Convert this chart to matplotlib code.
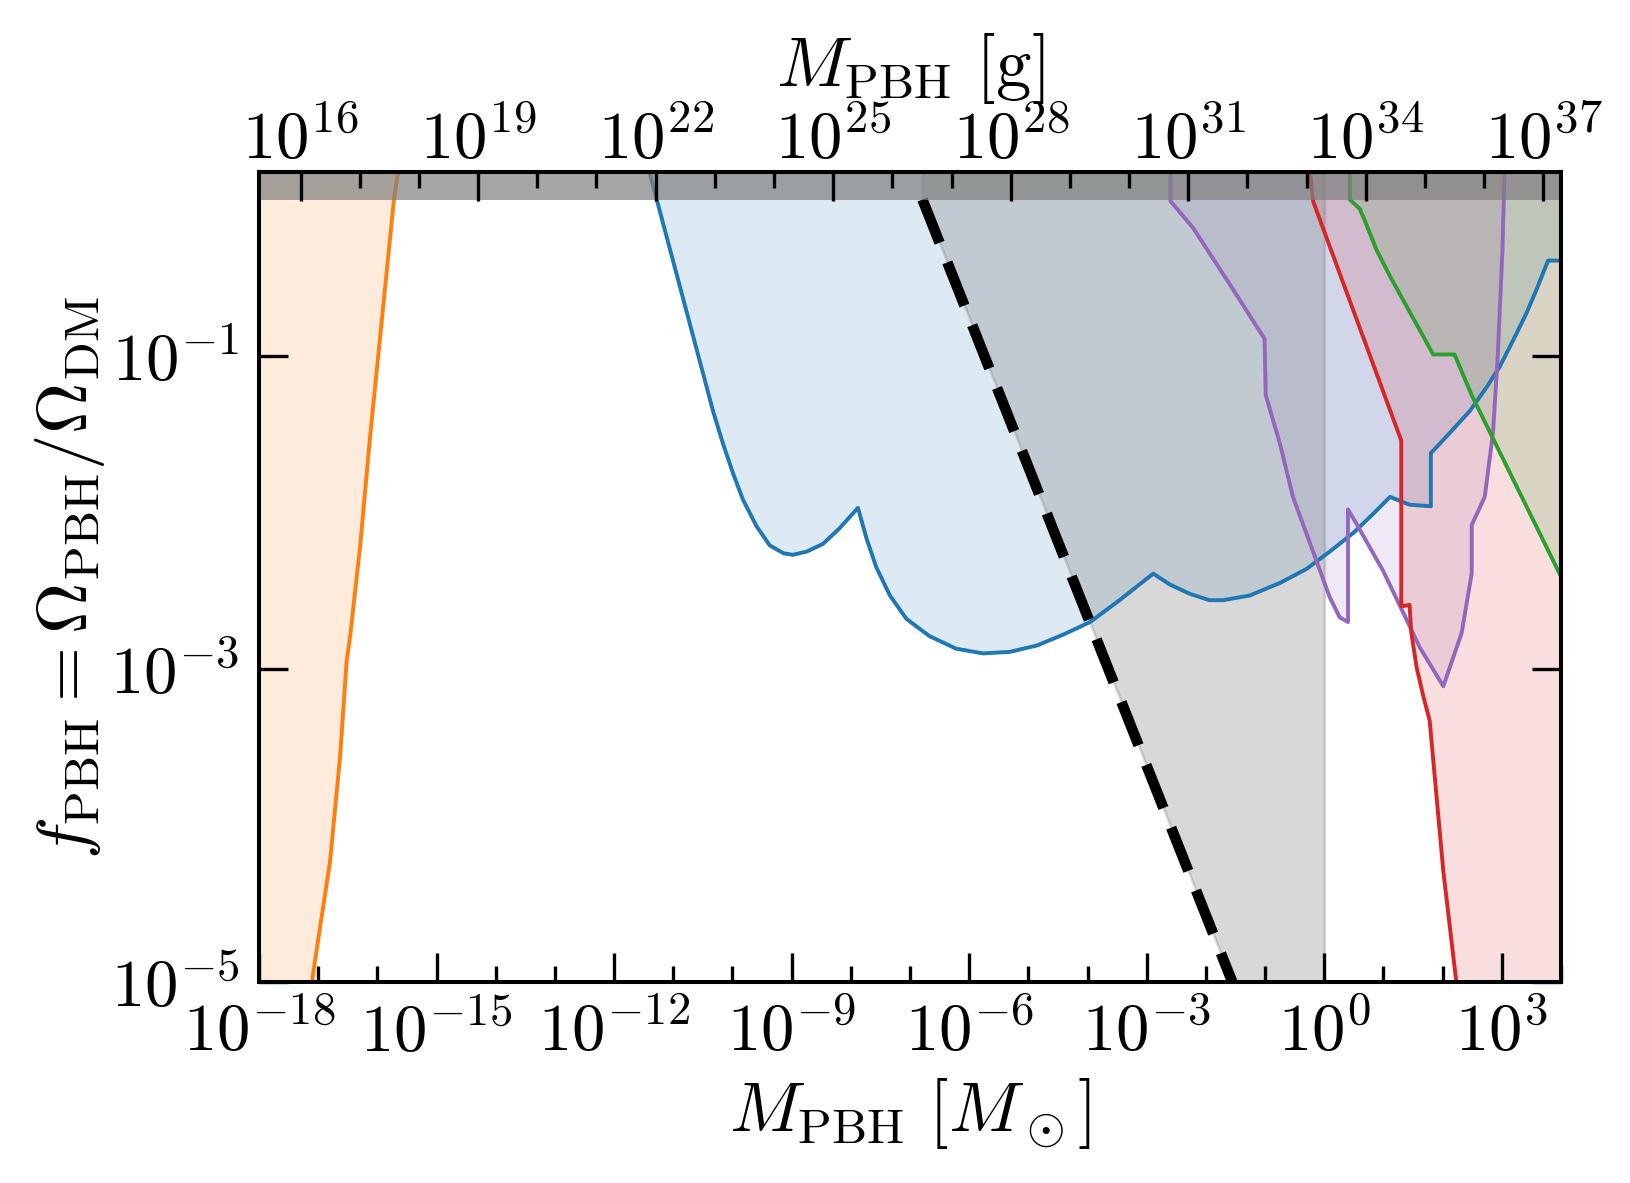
import matplotlib
matplotlib.use("Agg")
import matplotlib.pyplot as plt
import numpy as np
from matplotlib.ticker import NullFormatter, NullLocator

plt.rcParams['mathtext.fontset'] = 'cm'
plt.rcParams['font.family'] = 'serif'
plt.rcParams['font.serif'] = ['cmr10', 'DejaVu Serif']
plt.rcParams['axes.formatter.use_mathtext'] = True

MSUN_G = 1.989e33

# constraint curves as log10(M/Msun), log10(f_PBH)
orange_logm = [-17.20, -17.08, -16.80, -16.63, -16.52, -16.46, -16.29, -16.13, -15.72, -15.62]
orange_logf = [-5.30, -4.93, -4.23, -3.56, -2.95, -2.79, -2.21, -1.54, 0.00, 0.25]

blue_logm = [-11.50, -11.28, -10.47, -10.33, -10.16, -9.99, -9.82, -9.59, -9.37, -9.14, -8.98,
             -8.75, -8.47, -8.19, -7.88, -7.74, -7.57, -7.34, -7.06, -6.67, -6.22, -5.77,
             -5.31, -4.86, -4.41, -3.96, -3.46, -2.89, -2.61, -2.27, -1.94, -1.71, -1.26,
             -0.75, -0.30, 0.09, 0.49, 0.82, 1.11, 1.44, 1.80, 1.80, 1.95, 2.17, 2.46,
             2.74, 2.96, 3.19, 3.41, 3.58, 3.78, 4.00]
blue_logf = [0.31, 0.00, -1.15, -1.35, -1.56, -1.75, -1.92, -2.09, -2.21, -2.26, -2.27,
             -2.25, -2.20, -2.10, -1.97, -2.16, -2.35, -2.53, -2.68, -2.79, -2.87, -2.90,
             -2.89, -2.85, -2.78, -2.70, -2.56, -2.39, -2.46, -2.52, -2.56, -2.56, -2.53,
             -2.45, -2.36, -2.25, -2.13, -2.01, -1.90, -1.95, -1.96, -1.62, -1.56, -1.47, -1.35,
             -1.20, -1.07, -0.90, -0.73, -0.58, -0.39, -0.39]

purple_logm = [-2.60, -2.60, -2.22, -1.60, -1.01, -0.99, -0.75, -0.53, -0.19, 0.09, 0.26, 0.40,
               0.40, 0.54, 0.99, 1.27, 1.61, 2.01, 2.32, 2.49, 2.49, 2.71, 2.85, 2.93, 3.01, 3.05]
purple_logf = [0.25, -0.01, -0.18, -0.54, -0.89, -1.25, -1.56, -1.90, -2.25, -2.54, -2.67, -2.70,
               -1.98, -2.07, -2.37, -2.59, -2.86, -3.11, -2.77, -2.39, -2.08, -1.90, -1.49, -1.00, -0.32, 0.25]

red_logm = [-0.26, -0.19, 1.30, 1.30, 1.44, 1.47, 1.56, 1.67, 1.78, 2.01, 2.23, 2.30, 4.00]
red_logf = [0.25, -0.01, -1.54, -2.60, -2.59, -2.77, -2.99, -3.17, -3.33, -4.29, -5.00, -5.40, -5.40]

green_logm = [0.43, 0.43, 0.60, 0.68, 0.88, 1.11, 1.84, 2.20, 2.49, 4.00]
green_logf = [0.25, 0.00, -0.06, -0.13, -0.32, -0.49, -0.99, -0.99, -1.25, -2.41]

dash_logm = [-6.79, -1.45]
dash_logf = [0.00, -5.10]

x_ticks = [10.0**k for k in range(-18, 4, 3)]
x_minor = [10.0**k for k in range(-18, 5)]
y_ticks = [1e-5, 1e-3, 1e-1]
g_ticks = [10.0**k for k in range(16, 38, 3)]
g_minor = [10.0**k for k in range(16, 38)]

fs_tick = 24
fs_lab = 25.5
fig = plt.figure(figsize=(8.15, 5.915), dpi=200)
ax = fig.add_axes([0.1589, 0.1699, 0.7988, 0.6847])
ax.set_xscale('log')
ax.set_yscale('log')

TOP = 10.0
a = 0.15
curves = [(orange_logm, orange_logf, 'C1'), (blue_logm, blue_logf, 'C0'),
          (purple_logm, purple_logf, 'C4'), (red_logm, red_logf, 'C3'),
          (green_logm, green_logf, 'C2')]
for lm, lf, c in curves:
    m = 10.0**np.array(lm)
    f = 10.0**np.array(lf)
    if c == 'C1':
        ax.fill_betweenx(f, 1e-20, m, color=c, alpha=a)
    else:
        ax.fill_between(m, f, TOP, color=c, alpha=a)
    ax.plot(m, f, color=c, lw=1.4)

# region bounded by the dashed line and M = 1 Msun
dm = 10.0**np.array(dash_logm + [0.0])
df = 10.0**np.array(dash_logf + [dash_logf[-1]])
ax.fill_between(dm, df, TOP, color='gray', alpha=0.3)
ax.plot(10.0**np.array(dash_logm), 10.0**np.array(dash_logf), color='k', lw=3.8,
        ls=(0, (4.4, 2.0)))

# f_PBH > 1 excluded
ax.fill_between([1e-18, 1e4], 1, TOP, color='gray', alpha=0.7, lw=0, zorder=5)

ax.set_xlim(1e-18, 1e4)
ax.set_ylim(1e-5, 1.5)
ax.set_xticks(x_ticks)
ax.set_xticks(x_minor, minor=True)
ax.xaxis.set_minor_formatter(NullFormatter())
ax.set_yticks(y_ticks)
ax.yaxis.set_minor_locator(NullLocator())

ax.tick_params(which='both', direction='in', width=1.2, labelsize=fs_tick, top=False, right=True)
ax.tick_params(which='major', length=10.5, pad=7)
ax.tick_params(which='minor', length=5.6)
for s in ax.spines.values():
    s.set_linewidth(1.45)
    s.set_zorder(10)

ax.set_xlabel(r'$M_{\mathrm{PBH}}\ [M_\odot]$', fontsize=fs_lab)
ax.set_ylabel(r'$f_{\mathrm{PBH}} = \Omega_{\mathrm{PBH}}/\Omega_{\mathrm{DM}}$', fontsize=fs_lab,
              labelpad=1)

secax = ax.secondary_xaxis('top', functions=(lambda m: m * MSUN_G, lambda g: g / MSUN_G))
secax.set_zorder(8)
secax.set_xticks(g_ticks)
secax.set_xticks(g_minor, minor=True)
secax.xaxis.set_minor_formatter(NullFormatter())
secax.tick_params(which='both', direction='in', width=1.2, labelsize=fs_tick)
secax.tick_params(which='major', length=10.5, pad=0)
secax.tick_params(which='minor', length=5.6)
secax.spines['top'].set_linewidth(1.45)
secax.set_xlabel(r'$M_{\mathrm{PBH}}\ [\mathrm{g}]$', fontsize=fs_lab, labelpad=8)

fig.savefig('out.png', dpi=200)
